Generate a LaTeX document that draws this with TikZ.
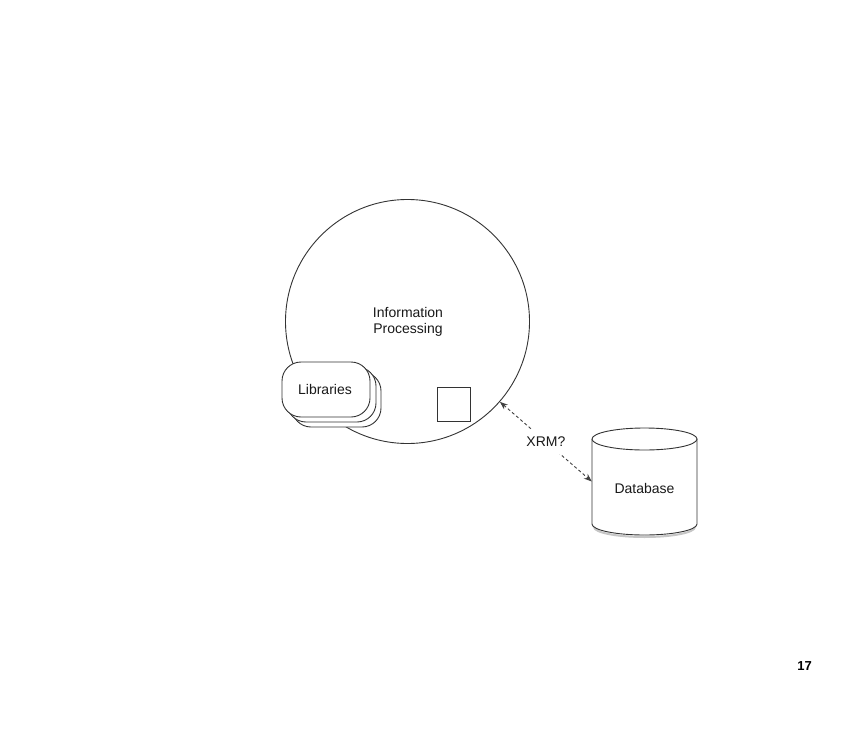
\documentclass[tikz,border=0pt]{standalone}
\usepackage{fontspec}
\setmainfont{Liberation Sans}
\usetikzlibrary{arrows.meta}
\begin{document}
\begin{tikzpicture}[x=1pt,y=-1pt,
  ln/.style={draw=black!80,line width=0.9pt},
  lbl/.style={font=\fontsize{14}{16.5}\selectfont,text=black!90,align=center},
  libbox/.style={ln,fill=white,rounded corners=19pt},
  xrm/.style={draw=black!75,line width=0.9pt,dash pattern=on 3pt off 2.5pt,{Stealth[length=8pt,width=6pt]}-{Stealth[length=8pt,width=6pt]}}
]
\useasboundingbox[fill=white] (0,0) rectangle (864,738);
% Information processing circle
\node[circle,ln,minimum size=244pt,inner sep=0pt] (ip) at (407.5,321.5) {};
\node[lbl] (iptext) at (408,322) {Information\\Processing};
% Libraries stack
\draw[libbox] (292,372) rectangle (381,427);
\draw[libbox] (287,367) rectangle (376,422);
\node[libbox,minimum width=88pt,minimum height=55pt,inner sep=0pt] (lib) at (326,389.5) {};
\node[lbl] (libtext) at (325,389) {Libraries};
% small square
\node[ln,minimum width=33pt,minimum height=34pt,inner sep=0pt] (sq) at (453.5,404) {};
% Database cylinder
\draw[gray!45,line width=2pt] (594,527) arc[start angle=180,end angle=0,x radius=50.5,y radius=10];
\draw[ln,fill=white] (592,439) -- (592,524) arc[start angle=180,end angle=0,x radius=52.5,y radius=11] -- (697,439);
\draw[ln,fill=white] (644.5,439) ellipse[x radius=52.5,y radius=11];
\node[minimum width=105pt,minimum height=107pt,inner sep=0pt] (db) at (644.5,481.5) {};
\node[lbl] (dbtext) at (644.5,488) {Database};
% XRM arrow
\draw[xrm] (ip.-41) -- node[lbl,fill=white,inner xsep=1pt,inner ysep=7pt] (xrmlbl) {XRM?} (db.west);
% page number
\node[font=\bfseries\fontsize{13}{15}\selectfont] (pg) at (804.5,666) {17};
\end{tikzpicture}
\end{document}
